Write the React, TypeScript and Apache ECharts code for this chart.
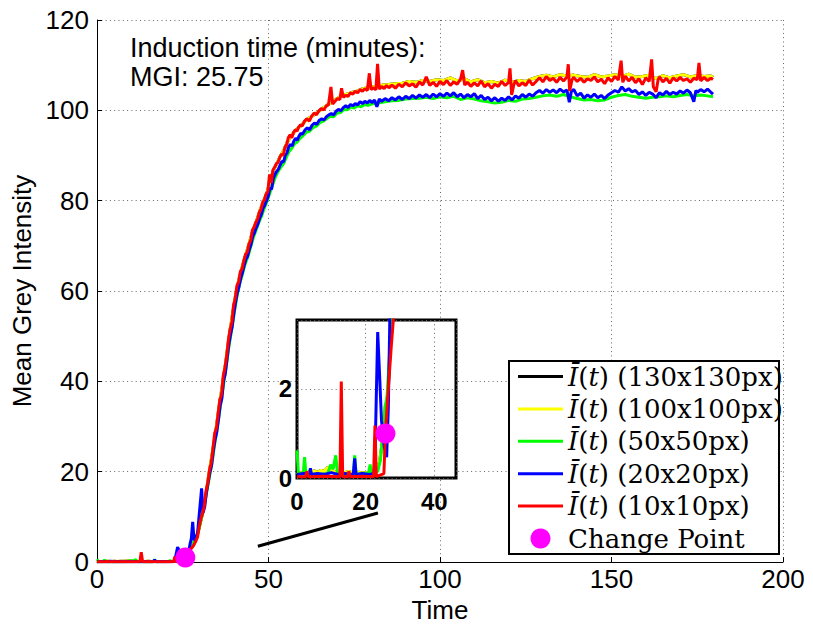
import React, { useEffect, useRef } from 'react';
import * as echarts from 'echarts';

// ---- Data (time in minutes, mean grey intensity) ----
const seriesNames = [
  'Ī(t) (130x130px)',
  'Ī(t) (100x100px)',
  'Ī(t) (50x50px)',
  'Ī(t) (20x20px)',
  'Ī(t) (10x10px)',
];
const seriesColors = ['#000000', '#FFFF00', '#00FF00', '#0000FF', '#FF0000'];

const intensity100: number[][] = [
  [0,0.08],[1,0.12],[2,0.1],[3,0.15],[4,0.12],[5,0.16],[6,0.13],[7,0.17],[8,0.15],[9,0.24],[10,0.18],[11,0.14],[12,0.11],[13,0.13],[14,0.12],[15,0.15],[16,0.12],[17,0.1],[18,0.13],[19,0.11],[20,0.12],[21,0.1],[22,0.13],[23,0.15],[24,0.35],[25,0.9],[25.8,1.5],[26.5,1.95],[27.2,3.0],[27.8,3.9],
  [28.5,4.6],[29.5,6.8],[30.5,9.9],[31.5,13.6],[32.5,18.9],[33.5,23.5],[34.5,28.3],[35.5,33.9],[36.5,38.9],[37.5,44.0],[38.5,49.8],[39.5,54.8],[40.5,59.5],[41.5,63.0],[42.5,65.8],[43.5,68.3],[44.5,70.9],[45.5,73.5],[46.5,75.5],[47.5,77.8],[48.5,79.8],[49.5,81.6],[50.5,84.5],[51.5,86.9],[52.5,88.3],[53.5,89.9],[54.5,91.2],[55.5,93.0],[56.5,94.2],[57.5,95.2],[58.5,96.0],[59.5,96.6],
  [61,97.9],[62.5,98.6],[64,99.4],[65.5,100.3],[67,101.1],[68.5,101.8],[70,102.6],[71.5,103.3],[73,103.6],[74.5,104.0],[76,104.3],[77.5,104.8],[79,105.0],[80.5,105.2],[82,105.4],[83.5,105.6],[85,105.7],[87,105.9],[89,106.0],[91,106.4],[93,106.2],[95,106.6],[97,106.4],[99,106.8],[101,106.6],[103,107.2],[105,106.5],[107,107.0],[109,106.3],[111,106.8],[113,106.1],[115,106.4],[117,106.0],[119,106.7],[121,106.2],[123,106.6],[125,106.4],[127,107.0],[129,107.5],[131,107.8],[133,107.4],[135,107.9],[137,107.6],[139,107.8],[141,107.5],[143,107.3],[145,107.9],[147,107.4],[149,107.6],[151,107.9],[153,107.4],[155,108.0],[157,107.3],[159,107.5],[161,107.8],[163,107.0],[165,107.7],[167,107.2],[169,107.6],[171,107.9],[173,107.4],[175,107.7],[177,107.5],[179,107.6],[179.6,107.3],
];

// The 130x130px curve lies exactly under the 100x100px curve in the reference (never visible)
const intensity130: number[][] = intensity100;

const intensity50: number[][] = [
  [0,0.62],[0.4,0.12],[1.8,0.08],[2.2,0.47],[2.6,0.08],[5,0.07],[7,0.08],[9,0.1],[9.8,0.3],[10.5,0.2],[11.3,0.51],[11.8,0.1],[14,0.07],[16.4,0.08],[16.8,0.51],[17.2,0.08],[19,0.1],[20.8,0.1],[21.3,0.3],[21.8,0.1],[23.5,0.15],[24.3,0.4],[25,1.0],[25.6,1.6],[26.2,1.8],[26.8,2.6],[27.4,3.3],[28,4.2],
  [28.8,5.1],[29.6,6.8],[30.4,9.6],[31.2,12.1],[32,15.6],[32.8,18.9],[33.6,22.3],[34.4,26.6],[35.2,30.4],[36,34.7],[36.8,38.9],[37.6,42.9],[38.4,47.4],[39.2,51.2],[40,55.1],[40.8,58.8],[41.6,61.6],[42.4,63.7],[43.2,66.0],[44,67.6],[44.8,69.7],[45.6,71.9],[46.4,73.5],[47.2,75.2],[48,76.6],[48.8,78.4],[49.6,79.9],[50.4,81.7],[51.2,83.5],[52,85.2],[52.8,86.5],[53.6,87.4],[54.4,88.2],[55.2,89.6],[56,90.9],[56.8,91.6],[57.6,92.6],[58.4,93.0],[59.2,93.8],[60,94.3],
  [61,95.1],[62,95.4],[63,96.2],[64,96.5],[65,97.3],[66,97.6],[67,98.2],[68,98.7],[69,98.6],[70,99.4],[71,99.5],[72,100.2],[73,100.1],[74,100.7],[75,100.5],[76,101.0],[77,100.8],[78,101.3],[79,101.1],[80,101.4],[82,101.6],[84,101.9],[86,102.1],[88,102.2],[90,102.5],[92,102.6],[94,102.7],[96,102.9],[98,102.6],[100,103.0],[102,102.8],[104,103.1],[106,102.4],[108,102.8],[110,102.5],[112,102.1],[114,101.9],[116,101.6],[118,101.8],[120,102.2],[122,102.0],[124,102.5],[126,102.6],[128,102.9],[130,103.2],[132,103.4],[134,103.1],[136,103.5],[138,103.0],[140,102.6],[142,102.3],[144,102.4],[146,102.1],[148,102.3],[150,102.9],[152,103.3],[154,103.5],[156,103.1],[158,102.9],[160,102.7],[162,102.9],[164,103.0],[166,103.2],[168,103.0],[170,103.3],[172,103.5],[174,103.2],[176,103.4],[178,103.2],[179.6,103.0],
];

const intensity20: number[][] = [
  [0,0.08],[2,0.1],[3.6,0.08],[3.9,0.22],[4.2,0.08],[6,0.1],[8,0.08],[10,0.12],[12,0.08],[14,0.1],[16.4,0.08],[16.8,0.44],[17.2,0.08],[19,0.1],[21,0.08],[22.6,0.1],[23.0,1.5],[23.5,3.28],[24.0,2.4],[24.6,1.3],[25.4,0.7],[26.1,0.47],[26.6,1.6],[27.1,3.9],[27.5,5.2],[27.9,8.9],[28.3,4.8],
  [28.8,5.4],[29.3,6.2],[29.8,10.5],[30.5,16.3],[30.9,10.9],[31.4,12.2],[31.9,15.4],[32.4,17.6],[32.9,19.8],[33.4,21.4],[33.9,24.5],[34.4,27.0],[34.9,28.7],[35.4,31.5],[35.9,34.6],[36.4,36.2],[36.9,40.1],[37.4,41.7],[37.9,44.9],[38.4,48.0],[38.9,50.2],[39.4,52.1],[39.9,55.0],[40.4,57.5],[40.9,59.6],[41.4,61.0],[41.9,62.8],[42.4,64.1],[42.9,65.6],[43.4,67.0],[43.9,67.7],[44.4,69.2],[44.9,70.3],[45.4,72.1],[45.9,72.9],[46.4,74.0],[46.9,74.8],[47.4,76.1],[47.9,76.9],[48.4,78.3],[48.9,79.0],[49.4,80.0],[49.9,80.9],[50.4,82.8],[50.9,82.5],[51.4,84.9],[51.9,85.8],[52.4,86.5],[52.9,87.0],[53.4,87.9],[53.9,88.7],[54.4,88.6],[54.9,90.1],[55.4,90.6],[55.9,91.9],[56.4,92.5],[56.9,92.1],[57.4,93.2],[57.9,93.8],[58.4,93.4],[58.9,94.3],[59.4,94.9],[59.9,94.7],
  [60.6,95.6],[61.3,96.1],[62,95.7],[62.7,96.7],[63.4,97.2],[64.1,96.9],[64.8,97.8],[65.5,98.1],[66.2,97.9],[66.9,98.6],[67.6,99.0],[68.3,99.3],[69,99.0],[69.7,99.8],[70.4,100.2],[71.1,99.9],[71.8,100.6],[72.5,101.0],[73.2,100.6],[73.9,101.3],[74.6,101.0],[75.3,101.5],[76,101.2],[76.7,101.9],[77.4,101.5],[78.1,102.0],[78.8,101.6],[79.5,102.2],[80.2,101.7],[80.9,102.3],[81.6,100.8],[82.3,102.5],[83,102.0],[84,102.6],[85,102.1],[86,102.8],[87,102.3],[88,103.0],[89,102.4],[90,103.1],[91,102.6],[92,103.3],[93,102.7],[94,103.4],[95,102.9],[96,103.5],[97,102.8],[98,103.6],[99,103.0],[100,103.7],[101,103.1],[102,103.8],[103,103.2],[104,103.9],[105,103.0],[106,103.6],[107,102.8],[108,103.5],[109,103.0],[110,103.7],[111,102.6],[112,103.3],[113,102.4],[114,102.9],[115,102.1],[116,102.8],[117,102.0],[118,102.7],[119,102.2],[120,103.0],[121,102.3],[122,103.2],[123,102.7],[124,103.5],[125,102.9],[126,103.6],[127,103.1],[128,103.9],[129,104.4],[130,103.8],[131,104.6],[132,104.0],[133,104.5],[134,103.9],[135,104.7],[136,104.1],[137,104.5],[137.7,101.8],[138.3,104.2],[139,104.6],[140,103.2],[141,103.8],[142,102.7],[143,103.4],[144,102.9],[145,103.6],[146,102.8],[147,103.3],[148,102.6],[149,103.4],[150,103.9],[151,104.4],[152,104.0],[153,105.2],[154,104.3],[155,104.8],[156,104.1],[157,104.4],[158,103.5],[159,104.1],[160,103.3],[161,104.0],[162,103.6],[163,102.8],[164,103.9],[165,103.4],[166,104.2],[167,103.5],[168,104.0],[169,103.6],[170,104.3],[171,103.8],[172,104.5],[173,103.9],[174,101.9],[174.6,104.4],[175,104.0],[176,104.6],[177,104.1],[178,104.7],[179,104.0],[179.6,103.6],
];

const intensity10: number[][] = [
  [0,0.03],[2.5,0.03],[2.9,0.15],[3.3,0.03],[8,0.04],[12.5,0.03],[12.9,2.17],[13.3,0.03],[14.8,0.03],[15.1,0.15],[15.5,0.03],[19,0.04],[22.3,0.03],[22.7,1.18],[23.1,0.03],[25.3,0.1],[25.75,1.0],[26.4,1.8],[27.4,2.9],[28.1,3.6],
  [28.8,4.6],[29.3,5.5],[29.8,7.8],[30.3,9.6],[30.8,10.8],[31.3,12.5],[31.8,15.8],[32.3,17.5],[32.8,20.4],[33.3,22.0],[33.8,25.1],[34.3,28.5],[34.8,29.6],[35.3,32.8],[35.8,35.9],[36.3,37.0],[36.8,41.2],[37.3,43.0],[37.8,45.6],[38.3,49.1],[38.8,51.5],[39.3,53.0],[39.8,56.8],[40.3,58.4],[40.8,61.2],[41.3,62.0],[41.8,64.3],[42.3,64.9],[42.8,66.7],[43.3,68.1],[43.8,68.6],[44.3,70.4],[44.8,71.2],[45.3,73.5],[45.8,74.1],[46.3,75.2],[46.8,75.9],[47.3,77.4],[47.8,78.1],[48.3,79.6],[48.8,80.2],[49.3,81.5],[49.8,82.0],[50.3,85.8],[50.8,83.9],[51.3,86.8],[51.8,87.4],[52.3,88.2],[52.8,88.5],[53.3,89.6],[53.8,90.3],[54.3,90.1],[54.8,91.8],[55.3,92.4],[55.8,94.0],[56.3,94.6],[56.8,93.9],[57.3,95.1],[57.8,95.7],[58.3,95.4],[58.8,96.3],[59.3,96.8],[59.8,96.5],
  [60.5,97.6],[61.2,98.1],[61.9,97.6],[62.6,98.7],[63.3,99.4],[64,99.0],[64.7,99.9],[65.4,100.4],[66.1,100.1],[66.8,100.9],[67.5,101.3],[68.2,105.2],[68.7,101.4],[69.4,102.0],[70.1,102.6],[70.8,102.4],[71.3,104.9],[71.8,102.9],[72.5,103.3],[73.2,103.1],[73.9,103.9],[74.6,103.6],[75.3,104.2],[76,103.9],[76.7,104.6],[77.4,104.2],[78.1,104.8],[78.8,104.4],[79.4,108.2],[79.9,104.6],[80.6,105.0],[81.3,104.5],[81.8,110.3],[82.3,104.7],[83,105.3],[83.7,104.8],[84.4,105.5],[85.1,105.0],
  [86,105.6],[87,104.9],[88,105.8],[89,105.2],[90,106.1],[91,105.4],[92,105.9],[93,105.1],[94,106.3],[95,105.6],[96,107.4],[97,105.5],[98,106.2],[99,105.3],[100,106.4],[101,105.7],[102,106.6],[103,105.5],[104,106.3],[105,105.8],[106,106.9],[106.6,108.9],[107.2,105.6],[108,106.2],[109,105.3],[110,106.1],[111,105.4],[112,106.5],[113,105.2],[114,105.9],[115,104.9],[116,105.8],[117,105.3],[118,106.4],[119,105.5],[120,106.2],[120.4,109.3],[120.9,103.4],[121.5,105.6],[122,106.6],[123,105.4],[124,106.1],[125,105.5],[126,106.7],[127,105.6],[128,106.4],[129,107.2],[130,106.3],[131,107.5],[132,106.6],[133,107.1],[134,106.2],[135,107.3],[136,106.5],[137,107.4],[137.4,110.2],[137.8,104.3],[138.5,106.8],[139,107.3],[140,106.4],[141,107.1],[142,106.2],[143,107.0],[144,106.6],[145,107.4],[146,106.3],[147,106.9],[148,105.9],[149,107.2],[150,106.4],[151,107.5],[152,106.7],[152.8,111.0],[153.3,106.2],[154,107.6],[155,106.5],[156,107.3],[157,106.1],[158,107.0],[159,105.7],[160,107.2],[161,106.4],[161.7,111.3],[162.2,105.2],[163,104.1],[163.6,106.8],[164,107.4],[165,106.3],[166,107.1],[167,106.0],[168,107.2],[169,106.5],[170,107.3],[171,106.6],[172,107.0],[173,106.2],[174,107.1],[175,106.8],[175.5,110.5],[176,106.5],[177,107.3],[178,106.6],[179,107.1],[179.6,106.8],
];

const changePoint: number[][] = [[25.75, 1.0]];
const inductionTime = 25.75;
// annotation line linking the inset to the main axes (data coordinates of the main axes)
const zoomConnector: number[][] = [[46.9, 3.5], [81.9, 10.85]];

const allSeriesData = [intensity130, intensity100, intensity50, intensity20, intensity10];

const SANS = 'Liberation Sans';
const SERIF = 'DejaVu Serif';
const gridDots = { color: '#666', width: 1, type: [1, 3.3] as number[] };
const LINE_ICON = 'path://M0,0L45,0L45,3L0,3Z';

export default function App() {
  const ref = useRef<HTMLDivElement>(null);

  useEffect(() => {
    const chart = echarts.init(ref.current as HTMLDivElement, null, { renderer: 'svg' });

    const lines: any[] = [];
    allSeriesData.forEach((d, i) => {
      for (const g of [0, 1]) {
        const s: any = {
          type: 'line',
          name: seriesNames[i],
          data: d,
          xAxisIndex: g,
          yAxisIndex: g,
          symbol: 'none',
          showSymbol: false,
          clip: true,
          silent: true,
          z: g === 0 ? 2 + i * 0.1 : 5 + i * 0.1,
          lineStyle: { color: seriesColors[i], width: 3 },
          itemStyle: { color: seriesColors[i] },
          emphasis: { disabled: true },
        };
        if (g === 0 && i === 4) {
          s.markLine = {
            silent: true,
            symbol: 'none',
            label: { show: false },
            lineStyle: { color: '#000', width: 3, type: 'solid' },
            data: [[{ coord: zoomConnector[0] }, { coord: zoomConnector[1] }]],
          };
        }
        lines.push(s);
      }
    });

    for (const g of [0, 1]) {
      lines.push({
        type: 'scatter',
        name: 'Change Point',
        data: changePoint,
        xAxisIndex: g,
        yAxisIndex: g,
        symbol: 'circle',
        symbolSize: 20,
        z: g === 0 ? 3 : 7,
        silent: true,
        itemStyle: { color: '#FF00FF', opacity: 1 },
        emphasis: { disabled: true },
      });
    }

    const option: any = {
      animation: false,
      backgroundColor: '#ffffff',
      title: {
        text: `Induction time (minutes):\nMGI: ${inductionTime}`,
        left: 130,
        top: 33,
        padding: 0,
        textStyle: { fontFamily: SANS, fontSize: 27, fontWeight: 'normal', color: '#000', lineHeight: 29 },
      },
      grid: [
        { left: 97, right: 30, top: 20, bottom: 63, outerBoundsMode: 'none', containLabel: false },
        {
          left: 297, top: 320, width: 159, height: 158, show: true, backgroundColor: '#ffffff',
          borderColor: '#000', borderWidth: 3, z: 1, outerBoundsMode: 'none', containLabel: false,
        },
      ],
      xAxis: [
        {
          type: 'value', gridIndex: 0, min: 0, max: 200, interval: 50,
          name: 'Time', nameLocation: 'middle', nameGap: 31,
          nameTextStyle: { fontFamily: SANS, fontSize: 26, color: '#000' },
          axisLine: { show: true, onZero: false, lineStyle: { color: '#000', width: 1 } },
          axisTick: { show: true, inside: true, length: 5, lineStyle: { color: '#000' } },
          axisLabel: { fontFamily: SANS, fontSize: 26, color: '#000', margin: 4 },
          splitLine: { show: true, lineStyle: gridDots },
        },
        {
          type: 'value', gridIndex: 1, min: 0, max: 46.3, interval: 20, z: 2,
          axisLine: { show: false },
          axisTick: { show: false },
          axisLabel: { fontFamily: SANS, fontSize: 24, fontWeight: 'bold', color: '#000', margin: 11, showMaxLabel: false },
          splitLine: { show: true, lineStyle: gridDots },
        },
      ],
      yAxis: [
        {
          type: 'value', gridIndex: 0, min: 0, max: 120, interval: 20,
          name: 'Mean Grey Intensity', nameLocation: 'middle', nameGap: 60,
          nameTextStyle: { fontFamily: SANS, fontSize: 26, color: '#000' },
          axisLine: { show: true, onZero: false, lineStyle: { color: '#000', width: 1 } },
          axisTick: { show: true, inside: true, length: 5, lineStyle: { color: '#000' } },
          axisLabel: { fontFamily: SANS, fontSize: 26, color: '#000', margin: 8 },
          splitLine: { show: true, lineStyle: gridDots },
        },
        {
          type: 'value', gridIndex: 1, min: 0, max: 3.55, interval: 2, z: 2,
          axisLine: { show: false },
          axisTick: { show: false },
          axisLabel: { fontFamily: SANS, fontSize: 24, fontWeight: 'bold', color: '#000', margin: 5, showMaxLabel: false },
          splitLine: { show: true, lineStyle: gridDots },
        },
      ],
      legend: {
        orient: 'vertical',
        left: 518,
        top: 363,
        itemWidth: 45,
        itemHeight: 20,
        itemGap: 5.4,
        padding: 0,
        selectedMode: false,
        z: 10,
        data: [
          ...seriesNames.map((n) => ({ name: n, icon: LINE_ICON })),
          { name: 'Change Point', icon: 'circle' },
        ],
        formatter: (name: string) =>
          name.charAt(0) === 'Ī' ? `{i|Ī}({i|t}) ${name.slice(5)}` : name,
        textStyle: {
          fontFamily: SERIF, fontSize: 26, color: '#000', lineHeight: 27,
          rich: { i: { fontFamily: SERIF, fontStyle: 'italic', fontSize: 26, color: '#000', lineHeight: 27 } },
        },
      },
      graphic: [
        {
          type: 'rect',
          z: 9,
          shape: { x: 509, y: 361, width: 270, height: 193 },
          style: { fill: '#ffffff', stroke: '#000', lineWidth: 2 },
          silent: true,
        },
      ],
      series: lines,
    };

    chart.setOption(option);
    return () => chart.dispose();
  }, []);

  return (
    <div
      ref={ref}
      style={{ position: 'fixed', left: 0, top: 0, width: 813, height: 625 }}
    />
  );
}
